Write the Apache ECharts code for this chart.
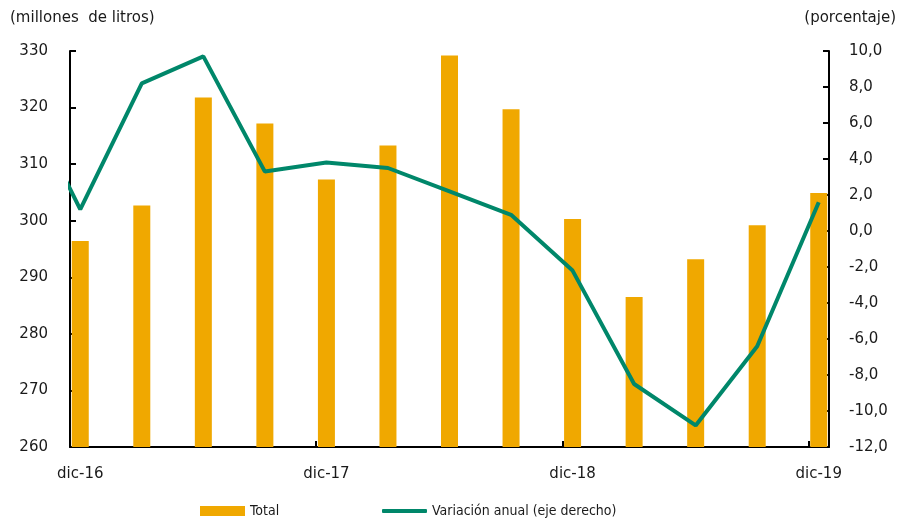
<!DOCTYPE html>
<html>
<head>
<meta charset="utf-8">
<script src="https://cdn.jsdelivr.net/npm/echarts@6/dist/echarts.min.js"></script>
<style>
html,body{margin:0;padding:0;background:#fff;}
#chart{width:899px;height:521px;}
</style>
</head>
<body>
<div id="chart"></div>
<script>
// Quarterly categories (dic-16 .. dic-19)
var quarters = ['dic-16','mar-17','jun-17','sep-17','dic-17','mar-18','jun-18','sep-18','dic-18','mar-19','jun-19','sep-19','dic-19'];
// Total (millones de litros)
var totalValues = [296.4, 302.7, 321.8, 317.2, 307.3, 313.3, 329.2, 319.7, 300.3, 286.5, 293.2, 299.2, 304.9];
// Variación anual (%) ; the first value is sep-16, before the visible axis start
var variationPrev = 8.1;
var variationValues = [1.2, 8.2, 9.7, 3.3, 3.8, 3.5, 2.2, 0.9, -2.2, -8.5, -10.8, -6.4, 1.6];
var leftTicks = {min: 260, max: 330, interval: 10};
var rightTicks = {min: -12, max: 10, interval: 2};
var monthsPerQuarter = 3;

// Build monthly category axis (37 months), quarters placed every 3rd month
var months = [];
var barData = [];
for (var i = 0; i < (quarters.length - 1) * monthsPerQuarter + 1; i++) {
  if (i % monthsPerQuarter === 0) {
    months.push(quarters[i / monthsPerQuarter]);
    barData.push(totalValues[i / monthsPerQuarter]);
  } else {
    months.push('m' + i);
    barData.push(null);
  }
}
var lineData = [[-monthsPerQuarter, variationPrev]];
variationValues.forEach(function (v, k) { lineData.push([k * monthsPerQuarter, v]); });

var chart = echarts.init(document.getElementById('chart'), null, {renderer: 'canvas'});
var txt = '#1a1a1a';
var legendFont = {fontFamily: '"DejaVu Sans Condensed", "DejaVu Sans", sans-serif', fontSize: 14, color: txt};
var option = {
  animation: false,
  backgroundColor: '#fff',
  grid: {left: 70, right: 70, top: 51, bottom: 74, containLabel: false},
  legend: [{
    left: 195, top: 499,
    itemWidth: 45, itemHeight: 10,
    textStyle: legendFont,
    data: [{name: 'Total', icon: 'rect'}]
  }, {
    left: 377, top: 499,
    itemWidth: 45, itemHeight: 4,
    textStyle: legendFont,
    data: [{name: 'Variación anual (eje derecho)', icon: 'roundRect'}]
  }],
  graphic: [
    {type: 'text', left: 10, top: 11, style: {text: '(millones  de litros)', font: '15px "DejaVu Sans"', fill: txt}},
    {type: 'text', right: 3, top: 11, style: {text: '(porcentaje)', font: '15px "DejaVu Sans"', fill: txt}}
  ],
  xAxis: [{
    type: 'category',
    data: months,
    boundaryGap: true,
    axisLine: {onZero: false, lineStyle: {color: '#000', width: 2}},
    axisTick: {show: true, inside: true, length: 6, lineStyle: {color: '#000', width: 2},
      interval: function (idx) { return idx % 12 === 0; }},
    axisLabel: {color: txt, fontFamily: 'DejaVu Sans', fontSize: 15, margin: 20,
      interval: function (idx) { return idx % 12 === 0; }},
    splitLine: {show: false}
  }, {
    type: 'value',
    min: -0.5, max: months.length - 0.5,
    show: false,
    axisLine: {onZero: false},
    splitLine: {show: false}
  }],
  yAxis: [{
    type: 'value',
    min: leftTicks.min, max: leftTicks.max, interval: leftTicks.interval,
    axisLine: {show: true, onZero: false, lineStyle: {color: '#000', width: 2}},
    axisTick: {show: true, inside: true, length: 6, lineStyle: {color: '#000', width: 2}},
    axisLabel: {color: txt, fontFamily: 'DejaVu Sans', fontSize: 15, margin: 22},
    splitLine: {show: false}
  }, {
    type: 'value',
    position: 'right',
    min: rightTicks.min, max: rightTicks.max, interval: rightTicks.interval,
    axisLine: {show: true, onZero: false, lineStyle: {color: '#000', width: 2}},
    axisTick: {show: true, inside: true, length: 6, lineStyle: {color: '#000', width: 2}},
    axisLabel: {color: txt, fontFamily: 'DejaVu Sans', fontSize: 15, margin: 20, align: 'left',
      formatter: function (v) { return v.toFixed(1).replace('.', ','); }},
    splitLine: {show: false}
  }],
  series: [{
    name: 'Total',
    type: 'bar',
    xAxisIndex: 0, yAxisIndex: 0,
    data: barData,
    barWidth: 17,
    itemStyle: {color: '#F0A800'}
  }, {
    name: 'Variación anual (eje derecho)',
    type: 'line',
    xAxisIndex: 1, yAxisIndex: 1,
    data: lineData,
    symbol: 'none',
    clip: true,
    lineStyle: {color: '#00876A', width: 4},
    itemStyle: {color: '#00876A'}
  }]
};
chart.setOption(option);
</script>
</body>
</html>
